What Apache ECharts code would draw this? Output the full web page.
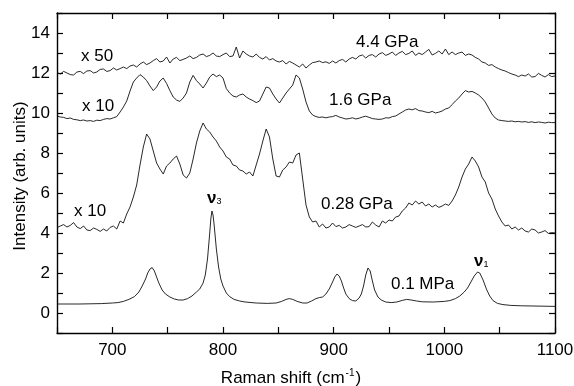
<!DOCTYPE html>
<html><head><meta charset="utf-8">
<script src="https://cdn.jsdelivr.net/npm/echarts@6/dist/echarts.min.js"></script>
<style>html,body{margin:0;padding:0;background:#fff}#c{width:574px;height:386px}</style>
</head><body><div id="c"></div>
<script>
// sampling grid for the noisy (x10 / x50) spectra: 650, 653, ... 1100 cm^-1
const shiftStart = 650;
const shiftStep = 3;

// 4.4 GPa (x 50)
const gpa44 = [
  12.02, 11.95, 12.08, 12.0, 11.92, 11.9, 12.05, 12.08, 11.97, 12.1,
  12.12, 12.0, 12.05, 12.18, 12.2, 12.08, 12.12, 12.25, 12.15, 12.22,
  12.3, 12.22, 12.35, 12.4, 12.3, 12.45, 12.55, 12.42, 12.5, 12.62,
  12.72, 12.55, 12.6, 12.8, 12.5, 12.7, 12.78, 12.62, 12.68, 12.75,
  12.85, 12.72, 12.78, 12.9, 12.95, 12.82, 12.88, 13.0, 12.85, 12.82,
  12.92, 13.0, 12.82, 12.85, 13.3, 12.75, 13.1, 12.95, 12.85, 12.8,
  12.95, 12.78, 12.7, 12.82, 12.65, 12.72, 12.6, 12.55, 12.62, 12.45,
  12.58, 12.5, 12.4, 12.3, 12.45, 12.25, 12.4, 12.52, 12.55, 12.6,
  12.52, 12.56, 12.48, 12.6, 12.5, 12.62, 12.68, 12.55, 12.7, 12.78,
  12.7, 12.85, 12.9, 12.75, 12.88, 12.92, 12.8, 12.95, 13.02, 12.88,
  12.95, 13.05, 12.88, 13.0, 13.08, 12.92, 12.98, 13.1, 12.88, 13.0,
  12.92, 13.05, 13.18, 12.9, 12.98, 13.1, 12.95, 13.2, 12.92, 13.05,
  12.92, 13.0, 13.05, 12.88, 12.95, 12.9, 12.78, 12.7, 12.55, 12.5,
  12.38, 12.42, 12.3, 12.22, 12.15, 12.1, 12.02, 11.95, 11.9, 11.82,
  11.9, 11.85, 11.95, 11.8, 11.82, 11.98, 11.88, 11.8, 11.92, 11.82,
  11.85
];

// 1.6 GPa (x 10)
const gpa16 = [
  9.85, 9.8, 9.78, 9.72, 9.75, 9.68, 9.66, 9.62, 9.65, 9.6,
  9.62, 9.58, 9.64, 9.62, 9.68, 9.72, 9.7, 9.76, 9.82, 10.05,
  10.3, 10.6, 11.1, 11.55, 11.75, 11.92, 11.8, 11.62, 11.35, 11.12,
  11.3, 11.6, 11.75, 11.48, 11.12, 10.8, 10.65, 10.58, 10.75, 11.0,
  11.55, 11.88, 11.62, 11.45, 11.25, 11.5, 11.8, 11.95, 11.82, 11.9,
  11.75, 11.22, 11.0, 10.85, 10.8, 10.9, 10.95, 10.8, 10.7, 10.62,
  10.52, 10.6, 10.95, 11.3, 11.25, 10.95, 10.7, 10.5, 10.75, 11.0,
  11.2, 11.4, 11.9, 11.75, 11.2, 10.55, 10.1, 9.9, 9.82, 9.78,
  9.8, 9.76, 9.8, 9.82, 9.88, 9.8, 9.75, 9.7, 9.72, 9.76,
  9.7, 9.74, 9.8, 9.84, 9.78, 9.72, 9.7, 9.68, 9.7, 9.76,
  9.75, 9.82, 9.85, 9.95, 10.05, 10.15, 10.2, 10.16, 10.22, 10.12,
  10.1, 10.05, 10.02, 10.08, 10.0, 10.04, 10.1, 10.2, 10.25, 10.42,
  10.6, 10.75, 10.95, 11.12, 11.05, 11.08, 11.0, 10.9, 10.75, 10.55,
  10.25, 9.95, 9.75, 9.65, 9.62, 9.6, 9.58, 9.6, 9.56, 9.58,
  9.55, 9.57, 9.53, 9.56, 9.52, 9.55, 9.53, 9.5, 9.54, 9.52,
  9.52
];

// 0.28 GPa (x 10)
const gpa028 = [
  4.27, 4.35, 4.42, 4.3, 4.38, 4.52, 4.3, 4.22, 4.35, 4.15,
  4.12, 4.25, 4.18, 4.08, 4.2, 4.1, 4.28, 4.35, 4.2, 4.6,
  4.5, 4.95, 5.3, 5.8, 6.4, 7.4, 8.3, 8.95, 8.7, 8.1,
  7.5, 7.2, 6.95, 7.35, 7.5, 7.7, 7.85, 7.45, 6.9, 6.75,
  7.0, 7.7, 8.5, 9.1, 9.5, 9.2, 9.05, 8.8, 8.6, 8.3,
  8.1, 7.8, 7.7, 7.4, 7.35, 7.15, 7.1, 6.95, 7.05, 6.85,
  7.4, 7.95, 8.6, 9.2, 8.8, 7.7, 6.85, 6.8, 7.15, 7.3,
  7.55, 7.5, 7.9, 8.0, 6.7, 5.4, 4.8, 4.55, 4.6, 4.3,
  4.45, 4.25, 4.3, 4.5, 4.32, 4.38, 4.25, 4.3, 4.42, 4.35,
  4.28, 4.35, 4.42, 4.3, 4.32, 4.55, 4.4, 4.3, 4.6, 4.5,
  4.65, 4.6, 4.8, 4.85, 5.1, 5.25, 5.5, 5.4, 5.6, 5.45,
  5.55, 5.35, 5.45, 5.3, 5.4, 5.28, 5.35, 5.45, 5.38, 5.6,
  5.9, 6.3, 6.8, 7.2, 7.45, 7.8, 7.6, 7.3, 6.8, 6.55,
  6.0, 5.7, 5.2, 4.85, 4.55, 4.35, 4.4, 4.2, 4.3, 4.15,
  4.25, 4.1, 4.05, 4.2, 4.15, 4.0, 4.05, 4.12, 3.98, 4.02,
  4.0
];

// 0.1 MPa (unscaled) – own sampling
const mpa01Shift = [
  650, 660, 670, 680, 690, 700, 705, 710, 715, 720, 724, 727, 730, 732, 734, 736, 738, 740, 742, 745,
  748, 752, 756, 760, 764, 768, 772, 776, 779, 782, 784, 786, 788, 789, 790, 791, 792, 794, 796, 798,
  800, 803, 806, 810, 815, 820, 830, 840, 848, 853, 857, 860, 863, 867, 872, 876, 880, 884, 887, 890,
  893, 896, 899, 901, 903, 905, 907, 909, 911, 914, 917, 920, 923, 925, 927, 929, 931, 933, 935, 937,
  940, 943, 947, 952, 957, 962, 966, 970, 975, 980, 990, 1000, 1005, 1010, 1014, 1018, 1021, 1024, 1027, 1030,
  1032, 1035, 1038, 1041, 1044, 1048, 1053, 1060, 1070, 1080, 1090, 1100
];
const mpa01 = [
  0.45, 0.45, 0.45, 0.46, 0.47, 0.5, 0.52, 0.58, 0.68, 0.82, 1.05, 1.35, 1.7, 2.0, 2.2, 2.27, 2.1, 1.8, 1.5, 1.15,
  0.95, 0.8, 0.7, 0.65, 0.65, 0.72, 0.85, 1.05, 1.2, 1.5, 1.9, 2.7, 4.0, 4.7, 5.1, 4.9, 4.4, 3.2, 2.3, 1.7,
  1.35, 1.0, 0.82, 0.68, 0.6, 0.55, 0.5, 0.48, 0.5, 0.58, 0.68, 0.72, 0.68, 0.58, 0.5, 0.5, 0.6, 0.72, 0.77, 0.8,
  0.95, 1.2, 1.55, 1.8, 1.95, 1.85, 1.6, 1.25, 0.95, 0.72, 0.62, 0.6, 0.75, 0.95, 1.35, 1.9, 2.25, 2.1, 1.6, 1.15,
  0.8, 0.65, 0.55, 0.52, 0.55, 0.63, 0.68, 0.65, 0.6, 0.56, 0.55, 0.58, 0.62, 0.72, 0.85, 1.05, 1.25, 1.55, 1.85, 2.05,
  2.0, 1.65, 1.2, 0.85, 0.62, 0.48, 0.42, 0.38, 0.36, 0.35, 0.34, 0.33
];

const FONT = '"Liberation Sans", Arial, Helvetica, sans-serif';
const grid = (arr) => arr.map((y, i) => [shiftStart + shiftStep * i, y]);
const pairs = (xs, ys) => xs.map((x, i) => [x, ys[i]]);

const chart = echarts.init(document.getElementById('c'), null, { renderer: 'canvas' });

const lineStyle = { color: '#111', width: 0.9 };
const mkSeries = (name, data) => ({
  name, type: 'line', data, showSymbol: false, symbol: 'none',
  lineStyle, animation: false, silent: true, xAxisIndex: 0, yAxisIndex: 0
});

const axisCommon = {
  axisLine: { show: true, onZero: false, lineStyle: { color: '#000', width: 1.4 } },
  axisTick: { show: true, inside: true, length: 6, lineStyle: { color: '#000', width: 1.2 } },
  splitLine: { show: false }
};

const txt = (text, x, y, extra) => ({
  type: 'text', x, y,
  style: Object.assign({ text, font: '17px ' + FONT, fill: '#000', textAlign: 'left', textVerticalAlign: 'middle' }, extra || {})
});

chart.setOption({
  animation: false,
  backgroundColor: '#fff',
  grid: { left: 57, right: 19, top: 13, bottom: 53, containLabel: false, outerBoundsMode: 'none' },
  xAxis: [
    Object.assign({}, axisCommon, {
      type: 'value', min: 650, max: 1100, interval: 50, position: 'bottom',
      axisLabel: { show: true, color: '#000', fontSize: 17, fontFamily: FONT, margin: 9,
        formatter: v => (v % 100 === 0 ? String(v) : '') }
    }),
    Object.assign({}, axisCommon, {
      type: 'value', min: 650, max: 1100, interval: 50, position: 'top',
      axisLabel: { show: false }
    })
  ],
  yAxis: [
    Object.assign({}, axisCommon, {
      type: 'value', min: -1, max: 15, interval: 1, position: 'left',
      axisLabel: { show: true, color: '#000', fontSize: 17, fontFamily: FONT, margin: 7,
        formatter: v => (v % 2 === 0 ? String(v) : '') }
    }),
    Object.assign({}, axisCommon, {
      type: 'value', min: -1, max: 15, interval: 1, position: 'right',
      axisLabel: { show: false }
    })
  ],
  series: [
    mkSeries('4.4 GPa', grid(gpa44)),
    mkSeries('1.6 GPa', grid(gpa16)),
    mkSeries('0.28 GPa', grid(gpa028)),
    mkSeries('0.1 MPa', pairs(mpa01Shift, mpa01))
  ],
  graphic: [
    txt('x 50', 81, 56),
    txt('x 10', 82, 106),
    txt('x 10', 74, 211),
    txt('4.4 GPa', 356, 42),
    txt('1.6 GPa', 329, 100),
    txt('0.28 GPa', 321, 204),
    txt('0.1 MPa', 391, 284),
    {
      type: 'text', x: 207, y: 198,
      style: {
        text: '{v|ν}{s|3}', textVerticalAlign: 'middle',
        rich: { v: { font: 'bold 17px ' + FONT, fill: '#000' }, s: { font: '9px ' + FONT, fill: '#000', padding: [8, 0, 0, 0] } }
      }
    },
    {
      type: 'text', x: 474, y: 261,
      style: {
        text: '{v|ν}{s|1}', textVerticalAlign: 'middle',
        rich: { v: { font: 'bold 17px ' + FONT, fill: '#000' }, s: { font: '9px ' + FONT, fill: '#000', padding: [8, 0, 0, 0] } }
      }
    },
    {
      type: 'text', x: 291, y: 378,
      style: {
        text: '{t|Raman shift (cm}{sup|-1}{t|)}', textAlign: 'center', textVerticalAlign: 'middle',
        rich: { t: { font: '17px ' + FONT, fill: '#000' }, sup: { font: '10px ' + FONT, fill: '#000', padding: [0, 1, 9, 1] } }
      }
    },
    {
      type: 'text', x: 20, y: 176, rotation: Math.PI / 2,
      style: { text: 'Intensity (arb. units)', font: '17px ' + FONT, fill: '#000', textAlign: 'center', textVerticalAlign: 'middle' }
    }
  ]
});
</script>
</body></html>
